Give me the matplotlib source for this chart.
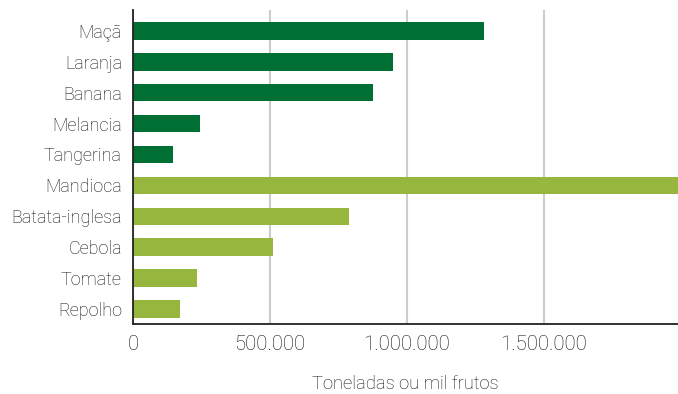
import matplotlib
matplotlib.use("Agg")
import matplotlib.pyplot as plt
from matplotlib.ticker import FuncFormatter

categories = ["Maçã", "Laranja", "Banana", "Melancia", "Tangerina",
              "Mandioca", "Batata-inglesa", "Cebola", "Tomate", "Repolho"]
values = [1281000, 949000, 876000, 245000, 146000,
          1990000, 788000, 511000, 234000, 172000]
groups = ["fruta"] * 5 + ["hortalica"] * 5
xticks = [0, 500000, 1000000, 1500000]
xlabel = "Toneladas ou mil frutos"

colors = {"fruta": "#006f34", "hortalica": "#97b63d"}

plt.rcParams['font.family'] = ['Roboto', 'DejaVu Sans']
fig = plt.figure(figsize=(6.78, 3.94), dpi=100)
ax = fig.add_axes([133/678, 1-324/394, (678-133)/678, (324-10)/394])

ypos = list(range(len(categories)))
ax.barh(ypos, values, height=0.56, color=[colors[g] for g in groups], zorder=3)
ax.set_yticks(ypos)
ax.set_yticklabels(categories, fontsize=13.0, fontweight='light', color='#111111')
ax.set_ylim(9.49, -0.68)
ax.set_xlim(0, 1989000)
ax.set_xticks(xticks)
ax.xaxis.set_major_formatter(FuncFormatter(lambda v, p: f"{int(v):,}".replace(",", ".")))
for lab in ax.get_xticklabels():
    lab.set_fontsize(14.7)
    lab.set_fontweight('light')
    lab.set_color('#111111')
ax.tick_params(axis='both', length=0)
ax.tick_params(axis='y', pad=8)
ax.tick_params(axis='x', pad=8)
ax.grid(axis='x', color='#cccccc', linewidth=1.5, zorder=0)
ax.grid(axis='y', visible=False)
for s in ['top', 'right']:
    ax.spines[s].set_visible(False)
for s in ['left', 'bottom']:
    ax.spines[s].set_color('#222222')
    ax.spines[s].set_linewidth(1.3)
    ax.spines[s].set_zorder(4)
ax.set_xlabel(xlabel, fontsize=13.2, fontweight='light', color='#111111', labelpad=15)

fig.savefig("out.png", dpi=100)
